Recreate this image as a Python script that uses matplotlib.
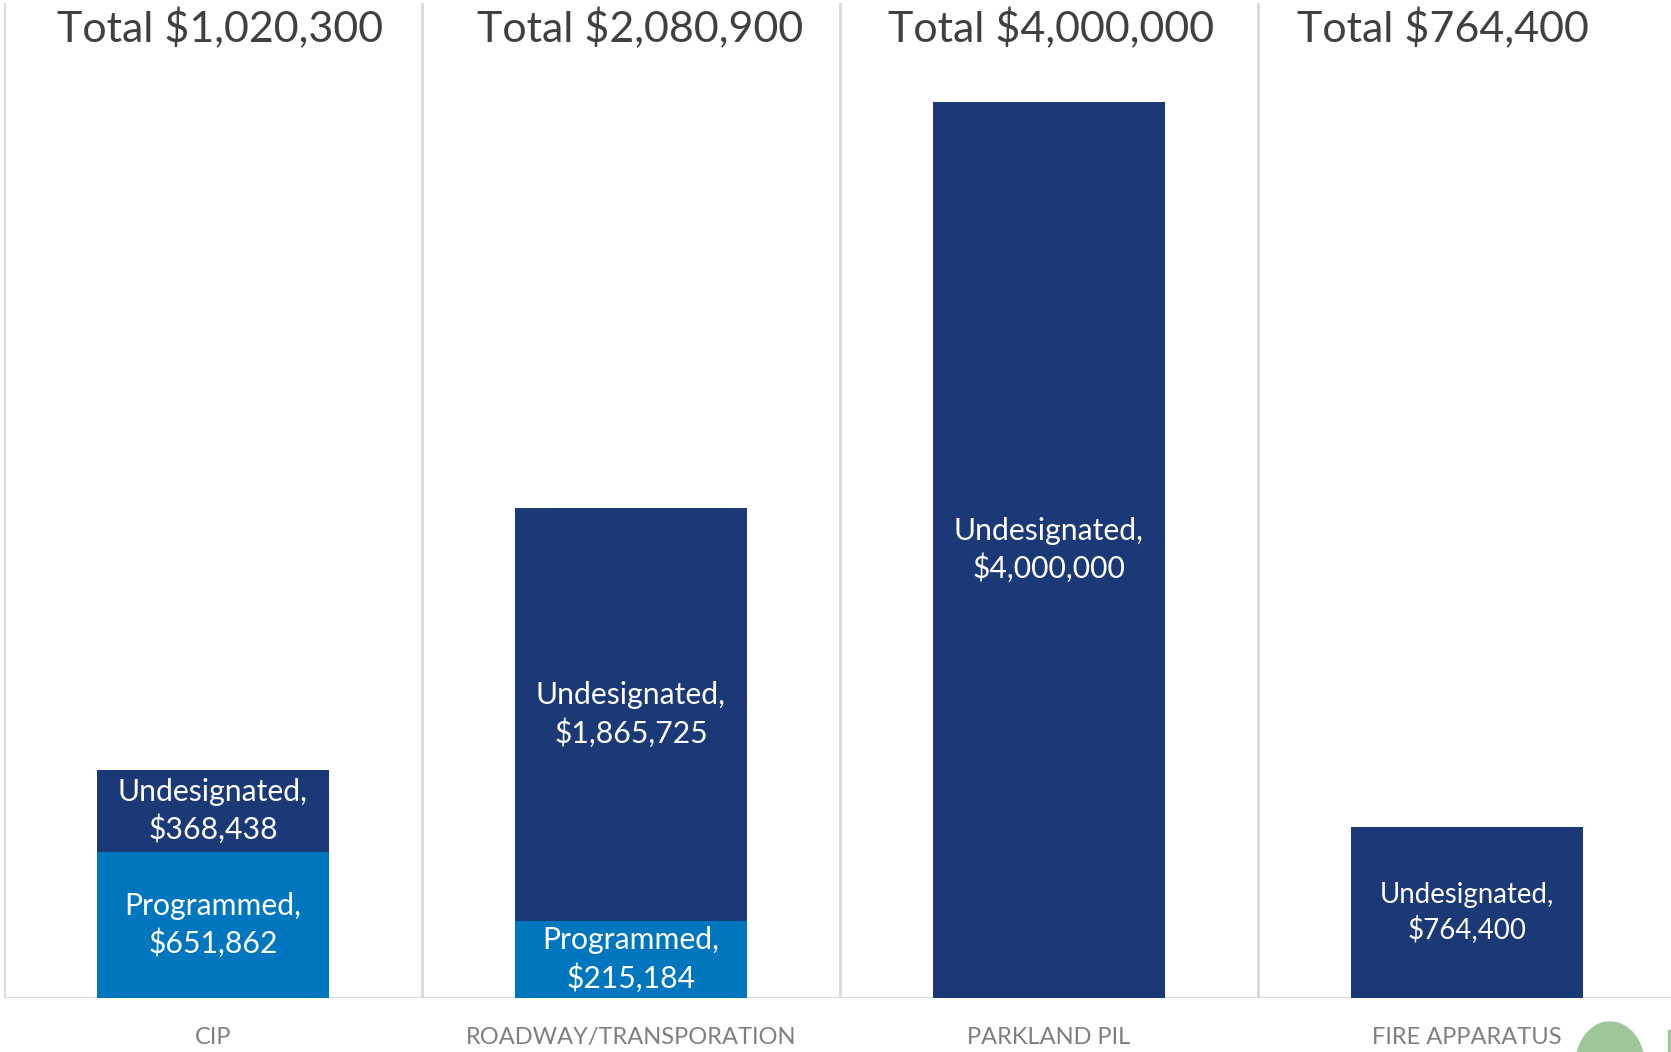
import matplotlib
matplotlib.use("Agg")
import matplotlib.pyplot as plt
from matplotlib.transforms import blended_transform_factory
from matplotlib.patches import Ellipse, Rectangle

# ---- data ----
categories = ["CIP", "ROADWAY/TRANSPORATION", "PARKLAND PIL", "FIRE APPARATUS"]
programmed = [651862, 345000, 0, 0]          # drawn heights
undesignated = [368438, 1843000, 4000000, 764400]
programmed_labels = ["$651,862", "$215,184", "", ""]
undesignated_labels = ["$368,438", "$1,865,725", "$4,000,000", "$764,400"]
totals = ["$1,020,300", "$2,080,900", "$4,000,000", "$764,400"]

NAVY = "#1B3877"
BLUE = "#0076BE"
GRID = "#D9D9D9"
TITLE = "#404040"
CAT = "#7F7F7F"

plt.rcParams["font.family"] = ["Lato", "DejaVu Sans"]

W, H = 1671, 1052
fig = plt.figure(figsize=(W / 100, H / 100), dpi=100)
left_px, base_px, top_px, cat_w = 4, 998, 3, 418
ax = fig.add_axes([left_px / W, (H - base_px) / H, (W - left_px) / W, (base_px - top_px) / H])
ax.set_xlim(-0.5, -0.5 + (W - left_px) / cat_w)
ax.set_ylim(0, (base_px - top_px) / 223.9e-6)

x = list(range(len(categories)))
bw = 0.557
ax.bar(x, programmed, width=bw, color=BLUE, zorder=2)
ax.bar(x, undesignated, width=bw, bottom=programmed, color=NAVY, zorder=2)

for s in ax.spines.values():
    s.set_visible(False)
ax.set_yticks([])
for b in [-0.5, 0.5, 1.5, 2.5, 3.5]:
    ax.axvline(b, color=GRID, lw=2, zorder=1)
ax.axhline(0, color=GRID, lw=2, zorder=1)

ax.set_xticks(x)
ax.set_xticklabels(categories, fontsize=17, color=CAT)
ax.tick_params(axis="x", length=0, pad=21)

for i in x:
    fs = 19.9 if i == 3 else 21.7
    if programmed[i] > 0:
        ax.text(i, programmed[i] / 2, "Programmed,\n" + programmed_labels[i],
                ha="center", va="center", color="white", fontsize=fs, linespacing=1.33, zorder=3)
    ax.text(i, programmed[i] + undesignated[i] / 2, "Undesignated,\n" + undesignated_labels[i],
            ha="center", va="center", color="white", fontsize=fs, linespacing=1.33, zorder=3)

tr = blended_transform_factory(ax.transData, ax.transAxes)
title_offsets = [0.016, 0.023, 0.005, -0.057]
for i in x:
    ax.text(i + title_offsets[i], (base_px - 42) / (base_px - top_px), "Total " + totals[i],
            transform=tr, ha="center", va="baseline", fontsize=31, color=TITLE)

# decorative green shape at the bottom-right corner (figure coords from bottom)
fig.patches.append(Ellipse((1610 / W, (H - 1064) / H), 68 / W, 84 / H, transform=fig.transFigure,
                           color="#9DC699", zorder=5))
fig.patches.append(Rectangle((1668 / W, 0), 3 / W, 22 / H, transform=fig.transFigure,
                             color="#9DC699", zorder=5))

fig.savefig("out.png", dpi=100, facecolor="white")
